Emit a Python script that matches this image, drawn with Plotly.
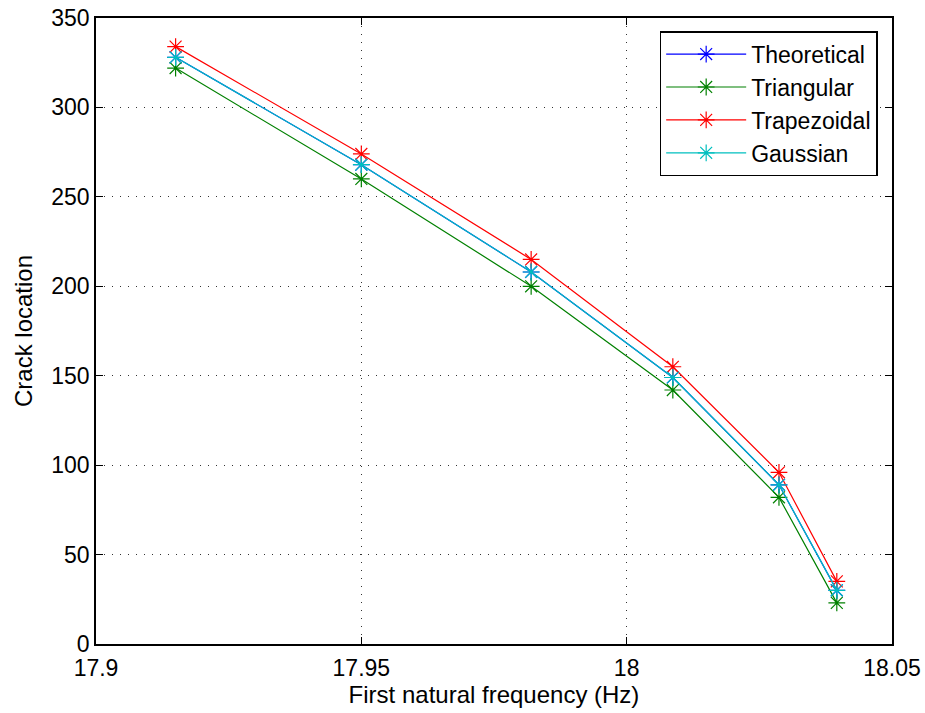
import plotly.graph_objects as go

freq = [17.915, 17.950, 17.982, 18.0087, 18.0287, 18.0396]
theoretical = [328, 268, 208, 149, 89, 30]
triangular = [322, 260, 200, 142, 82, 23]
trapezoidal = [334, 274, 215, 155, 96, 35]
gaussian = [328, 268, 208, 149, 89, 30]

series = [
    ("Theoretical", theoretical, "#0000FF"),
    ("Triangular", triangular, "#008000"),
    ("Trapezoidal", trapezoidal, "#FF0000"),
    ("Gaussian", gaussian, "#00BFBF"),
]

x_ticks = [17.9, 17.95, 18.0, 18.05]
x_tick_labels = ["17.9", "17.95", "18", "18.05"]
y_ticks = [0, 50, 100, 150, 200, 250, 300, 350]

fig = go.Figure()
for name, vals, col in series:
    fig.add_trace(go.Scatter(
        x=freq, y=vals, name=name, mode="lines+markers",
        line=dict(color=col, width=1.2),
        marker=dict(symbol="asterisk-open", size=14, color=col,
                    line=dict(color=col, width=1.2)),
    ))

axis_common = dict(
    showline=True, linecolor="black", linewidth=1.5, mirror="allticks",
    ticks="inside", ticklen=7, tickcolor="black", tickwidth=1,
    showgrid=True, gridcolor="#333333", gridwidth=1, griddash="1px,7px",
    zeroline=False, tickfont=dict(size=23, color="black"), automargin=False,
    ticklabeloverflow="allow",
)

fig.update_layout(
    width=925, height=713,
    margin=dict(l=96, r=33, t=18, b=69),
    paper_bgcolor="white", plot_bgcolor="white",
    font=dict(family="Liberation Sans, Arial, sans-serif", color="black"),
    xaxis=dict(range=[17.9, 18.05], tickvals=x_ticks, ticktext=x_tick_labels,
               ticklabelstandoff=3,
               title=dict(text="First natural frequency (Hz)", font=dict(size=24), standoff=4),
               **axis_common),
    yaxis=dict(range=[0, 350], tickvals=y_ticks,
               title=dict(text="Crack location", font=dict(size=24), standoff=12),
               **axis_common),
    legend=dict(x=0.982, y=0.979, xanchor="right", yanchor="top",
                bgcolor="white", bordercolor="black", borderwidth=1.5,
                font=dict(size=23, color="black"), tracegroupgap=0,
                itemwidth=80),
    showlegend=True,
)

fig.write_html("out.html", config={"displayModeBar": False},
               post_script="document.body.style.margin='0';")
